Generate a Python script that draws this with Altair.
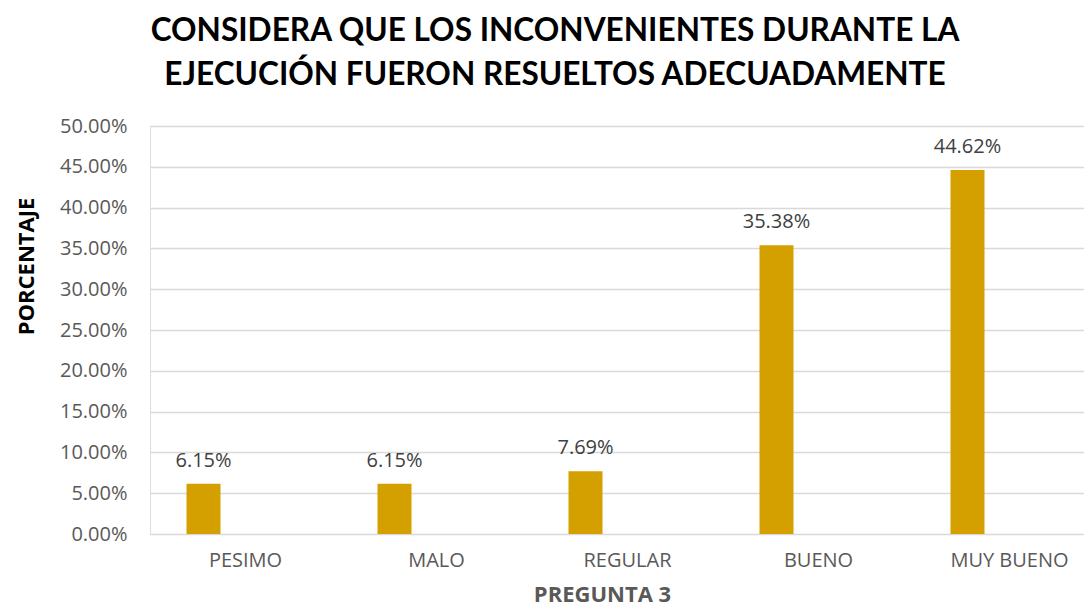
import altair as alt
import pandas as pd

categories = ["PESIMO", "MALO", "REGULAR", "BUENO", "MUY BUENO"]
values = [0.0615, 0.0615, 0.0769, 0.3538, 0.4462]
labels = ["6.15%", "6.15%", "7.69%", "35.38%", "44.62%"]

df = pd.DataFrame({"cat": categories, "val": values, "lab": labels})

FONT = "Open Sans"

x_enc = alt.X(
    "cat:N",
    sort=categories,
    scale=alt.Scale(range=[0, 955], paddingInner=0, paddingOuter=0),
    axis=alt.Axis(
        title="PREGUNTA 3",
        titleFont=FONT,
        titleFontSize=22,
        titleFontWeight="bold",
        titleColor="#595959",
        titleX=452,
        titleY=67,
        titleBaseline="alphabetic",
        labelFont=FONT,
        labelFontSize=20,
        labelColor="#595959",
        labelAngle=0,
        labelPadding=16,
        ticks=False,
        domain=False,
        grid=False,
    ),
)

y_enc = alt.Y(
    "val:Q",
    scale=alt.Scale(domain=[0, 0.5], nice=False),
    axis=alt.Axis(
        title="PORCENTAJE",
        titleFont=FONT,
        titleFontSize=22,
        titleFontWeight="bold",
        titleColor="#000000",
        titleX=-124,
        titleY=140,
        titleAlign="center",
        titleBaseline="middle",
        values=[i * 0.05 for i in range(11)],
        format=".2%",
        labelFont=FONT,
        labelFontSize=20,
        labelColor="#595959",
        labelPadding=23,
        ticks=False,
        domain=False,
        grid=True,
        gridColor="#D9D9D9",
        gridWidth=1.3,
    ),
)

bars = alt.Chart(df).mark_bar(size=34, xOffset=-42, color="#D4A000").encode(
    x=x_enc, y=y_enc
)

text = alt.Chart(df).mark_text(
    xOffset=-42, dy=-13, baseline="bottom", font=FONT, fontSize=20, color="#404040"
).encode(x=alt.X("cat:N", sort=categories), y="val:Q", text="lab:N")

chart = (
    alt.layer(bars, text)
    .properties(
        width=934,
        height=408,
        autosize=alt.AutoSizeParams(type="none"),
        padding={"left": 142, "top": 118, "right": 0, "bottom": 72},
        title=alt.TitleParams(
            text=["CONSIDERA QUE LOS INCONVENIENTES DURANTE LA", "EJECUCIÓN FUERON RESUELTOS ADECUADAMENTE"],
            font="Lato",
            fontSize=31.6,
            fontWeight="bold",
            color="#000000",
            anchor="middle",
            dx=-62,
            offset=24,
            lineHeight=44,
        ),
    )
    .configure_view(stroke=None)
    .configure(background="white")
)

chart.save("out.html", embed_options={"renderer": "svg", "actions": False})
